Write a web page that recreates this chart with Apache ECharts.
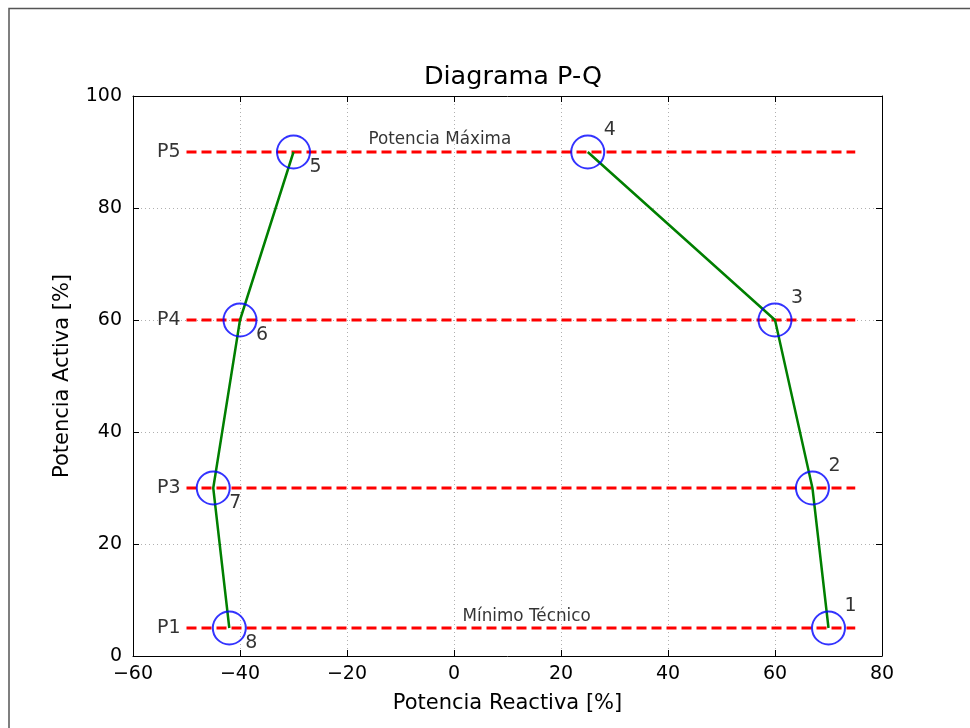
<!DOCTYPE html>
<html>
<head>
<meta charset="utf-8">
<script src="https://cdn.jsdelivr.net/npm/echarts@6/dist/echarts.min.js"></script>
<style>
  html, body { margin: 0; padding: 0; background: #fff; }
  #chart { width: 970px; height: 728px; }
</style>
</head>
<body>
<div id="chart"></div>
<script>
// Operating envelope of the generator (Q, P) in percent
const pointNames = ['1', '2', '3', '4', '5', '6', '7', '8'];
const reactive = [70, 67, 60, 25, -30, -40, -45, -42];
const active = [5, 30, 60, 90, 90, 60, 30, 5];

// Power levels drawn as dashed horizontal references
const levelNames = ['P1', 'P3', 'P4', 'P5'];
const levelValues = [5, 30, 60, 90];
const levelStart = -50;
const levelEnd = 75;

// Free text notes on the diagram
const noteTexts = ['Potencia Máxima', 'Mínimo Técnico'];
const noteX = [-16, 1.6];
const noteY = [92.2, 7.1];

const xTicks = { min: -60, max: 80, step: 20 };
const yTicks = { min: 0, max: 100, step: 20 };

const FONT = 'DejaVu Sans';
const chart = echarts.init(document.getElementById('chart'));

const pts = reactive.map((q, i) => [q, active[i]]);
const rightBranch = pts.slice(0, 4);
const leftBranch = pts.slice(4, 8);

const levelSeries = levelValues.map((v) => ({
  type: 'line',
  data: [[levelStart, v], [levelEnd, v]],
  symbol: 'none',
  silent: true,
  z: 2,
  lineStyle: { color: '#ff0000', width: 3, type: [10, 5] }
}));

const branchStyle = { color: '#007f00', width: 2.5 };

const axisCommon = {
  type: 'value',
  axisLine: { show: true, onZero: false, lineStyle: { color: '#000', width: 1 } },
  axisTick: { show: true, inside: true, length: 6, lineStyle: { color: '#000', width: 1 } }
};

// invisible anchor marks that carry text labels
const textMark = {
  type: 'scatter',
  z: 5,
  silent: true,
  symbol: 'circle',
  symbolSize: 1,
  itemStyle: { color: 'rgba(0,0,0,0)' }
};

const option = {
  animation: false,
  backgroundColor: '#fff',
  title: {
    text: 'Diagrama P-Q',
    left: 508,
    textAlign: 'center',
    top: 59,
    textStyle: { fontFamily: FONT, fontSize: 25.5, fontWeight: 'normal', color: '#000' }
  },
  grid: { left: 133, right: 88, top: 96, bottom: 72 },
  xAxis: [
    Object.assign({}, axisCommon, {
      position: 'bottom',
      min: xTicks.min, max: xTicks.max, interval: xTicks.step,
      name: 'Potencia Reactiva [%]',
      nameLocation: 'middle',
      nameGap: 37,
      nameTextStyle: { fontFamily: FONT, fontSize: 21, color: '#000' },
      axisLabel: {
        fontFamily: FONT, fontSize: 19, color: '#000', margin: 9,
        formatter: (v) => String(v).replace('-', '\u2212')
      },
      splitLine: { show: true, lineStyle: { color: '#b0b0b0', type: [1, 3], width: 1 } }
    }),
    Object.assign({}, axisCommon, {
      position: 'top',
      min: xTicks.min, max: xTicks.max, interval: xTicks.step,
      axisLabel: { show: false },
      splitLine: { show: false }
    })
  ],
  yAxis: [
    Object.assign({}, axisCommon, {
      position: 'left',
      min: yTicks.min, max: yTicks.max, interval: yTicks.step,
      name: 'Potencia Activa [%]',
      nameLocation: 'middle',
      nameGap: 60,
      nameTextStyle: { fontFamily: FONT, fontSize: 21, color: '#000' },
      axisLabel: { fontFamily: FONT, fontSize: 19, color: '#000', margin: 11 },
      splitLine: { show: true, lineStyle: { color: '#b0b0b0', type: [1, 3], width: 1 } }
    }),
    Object.assign({}, axisCommon, {
      position: 'right',
      min: yTicks.min, max: yTicks.max, interval: yTicks.step,
      axisLabel: { show: false },
      splitLine: { show: false }
    })
  ],
  graphic: [{
    type: 'polyline',
    shape: { points: [[9, 740], [9, 8.5], [980, 8.5]] },
    style: { stroke: '#555', lineWidth: 1.5, fill: null },
    silent: true
  }],
  series: levelSeries.concat([
    {
      type: 'line', data: rightBranch, symbol: 'none', z: 3,
      lineStyle: branchStyle
    },
    {
      type: 'line', data: leftBranch, symbol: 'none', z: 3,
      lineStyle: branchStyle
    },
    {
      type: 'scatter',
      z: 4,
      symbol: 'circle',
      symbolSize: 33,
      itemStyle: { color: 'rgba(0,0,0,0)', borderColor: '#0000ff', borderWidth: 2 },
      data: pts.map((p, i) => ({
        value: p,
        name: pointNames[i],
        label: {
          show: true,
          position: 'inside',
          formatter: pointNames[i],
          offset: i < 4 ? [22, -22] : [22, 15],
          fontFamily: FONT, fontSize: 19, color: '#000'
        }
      }))
    },
    Object.assign({}, textMark, {
      data: levelValues.map((v, i) => ({
        value: [levelStart - 1, v],
        label: {
          show: true, position: 'left', distance: 0, formatter: levelNames[i],
          fontFamily: FONT, fontSize: 19, color: '#000'
        }
      }))
    }),
    Object.assign({}, textMark, {
      data: noteTexts.map((t, i) => ({
        value: [noteX[i], noteY[i]],
        label: {
          show: true, position: 'inside', formatter: t,
          align: 'left', verticalAlign: 'middle',
          fontFamily: FONT, fontSize: 16.8, color: '#000'
        }
      }))
    })
  ])
};

chart.setOption(option);
</script>
</body>
</html>
